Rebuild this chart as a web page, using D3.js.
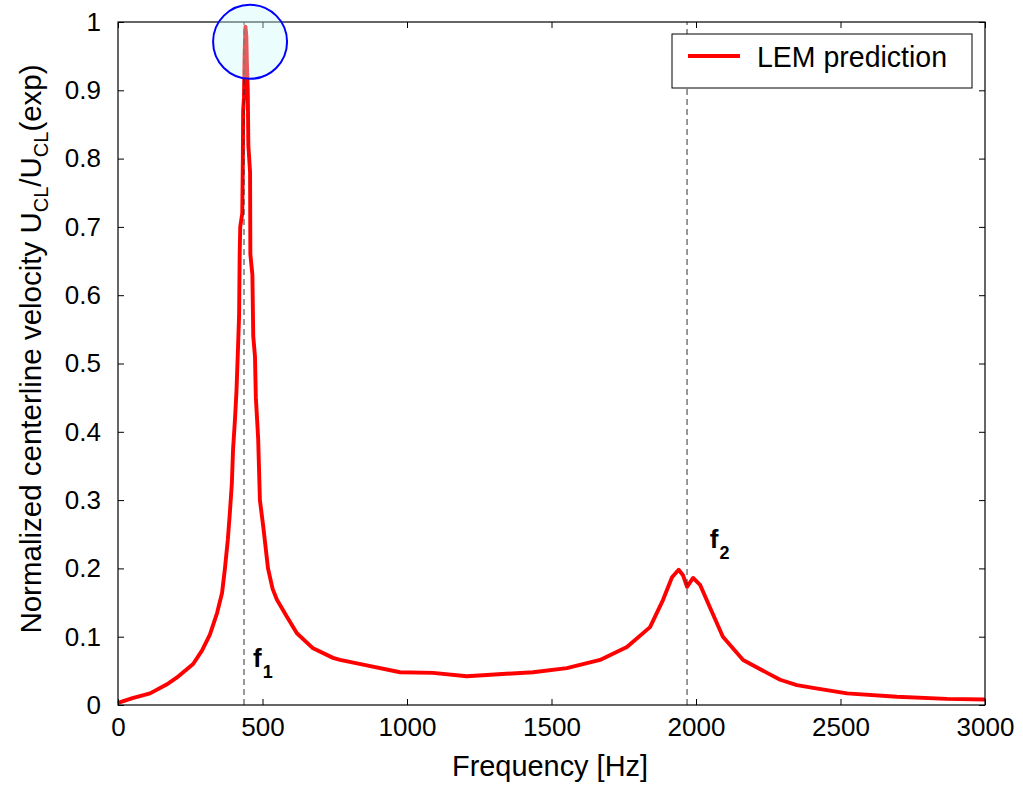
<!DOCTYPE html>
<html>
<head>
<meta charset="utf-8">
<script src="https://cdn.jsdelivr.net/npm/d3@7"></script>
<style>
  html, body { margin: 0; padding: 0; background: #fff; }
  svg { display: block; font-family: "Liberation Sans", Arial, Helvetica, sans-serif; }
</style>
</head>
<body>
<svg id="chart" width="1023" height="785"></svg>
<script>
// ---- data ----
const frequency = [0, 50, 111, 168, 203, 260, 291, 318, 343, 360, 370, 380, 387, 394, 398, 405, 410, 415, 419, 421, 423, 430, 432, 433, 436, 438, 441, 444, 446, 449, 451, 457, 458, 465, 468, 474, 477, 481, 485, 491, 503, 519, 535, 550, 585, 619, 675, 744, 768, 848, 976, 1090, 1207, 1276, 1436, 1553, 1668, 1761, 1841, 1886, 1917, 1940, 1955, 1969, 1990, 2014, 2048, 2093, 2163, 2246, 2291, 2349, 2405, 2522, 2695, 2868, 3000];
const velocity = [0.003, 0.010, 0.017, 0.030, 0.040, 0.060, 0.080, 0.103, 0.135, 0.164, 0.200, 0.242, 0.281, 0.325, 0.373, 0.420, 0.460, 0.520, 0.570, 0.660, 0.700, 0.720, 0.800, 0.870, 0.890, 0.950, 0.993, 0.980, 0.940, 0.900, 0.820, 0.780, 0.660, 0.630, 0.540, 0.510, 0.450, 0.420, 0.390, 0.300, 0.260, 0.200, 0.170, 0.154, 0.129, 0.105, 0.083, 0.069, 0.066, 0.059, 0.048, 0.047, 0.042, 0.044, 0.048, 0.054, 0.066, 0.085, 0.114, 0.154, 0.187, 0.198, 0.190, 0.173, 0.186, 0.176, 0.143, 0.100, 0.066, 0.047, 0.037, 0.029, 0.025, 0.017, 0.012, 0.009, 0.008];
const xTicks = [0, 500, 1000, 1500, 2000, 2500, 3000];
const yTicks = [0, 0.1, 0.2, 0.3, 0.4, 0.5, 0.6, 0.7, 0.8, 0.9, 1];
const yTickLabels = ["0", "0.1", "0.2", "0.3", "0.4", "0.5", "0.6", "0.7", "0.8", "0.9", "1"];
const resonances = [{name: "1", f: 436}, {name: "2", f: 1969}];
const resonanceLabelPos = [{f: 467, v: 0.056}, {f: 2048, v: 0.230}];
const highlight = {f: 457, v: 0.971};
const legendLabel = "LEM prediction";

// ---- layout ----
const svg = d3.select("#chart");
const mLeft = 118, mRight = 985, mTop = 22, mBottom = 705;
const x = d3.scaleLinear().domain([0, 3000]).range([mLeft, mRight]);
const y = d3.scaleLinear().domain([0, 1]).range([mBottom, mTop]);
const tickFont = 26;

// curve
const pts = frequency.map((f, i) => [f, velocity[i]]);
svg.append("path")
  .datum(pts)
  .attr("fill", "none")
  .attr("stroke", "#ff0000")
  .attr("stroke-width", 3.9)
  .attr("stroke-linejoin", "round")
  .attr("d", d3.line().x(d => x(d[0])).y(d => y(d[1])));

// resonance dashed lines
svg.selectAll("line.res").data(resonances).enter().append("line")
  .attr("class", "res")
  .attr("x1", d => x(d.f)).attr("x2", d => x(d.f))
  .attr("y1", y(0)).attr("y2", y(1))
  .attr("stroke", "#333").attr("stroke-width", 1)
  .attr("stroke-dasharray", "6,4");

// resonance labels
resonances.forEach((r, i) => {
  const p = resonanceLabelPos[i];
  const t = svg.append("text")
    .attr("x", x(p.f)).attr("y", y(p.v))
    .attr("font-size", 26).attr("font-weight", "bold").attr("fill", "#000");
  t.append("tspan").text("f");
  t.append("tspan").attr("font-size", 18).attr("dy", 11).attr("dx", 1).text(r.name);
});

// axes frame
svg.append("rect")
  .attr("x", mLeft).attr("y", mTop)
  .attr("width", mRight - mLeft).attr("height", mBottom - mTop)
  .attr("fill", "none").attr("stroke", "#000").attr("stroke-width", 1.2);

const gx = svg.append("g").attr("transform", `translate(0,${mBottom})`)
  .call(d3.axisBottom(x).tickValues(xTicks).tickSizeInner(-6).tickSizeOuter(0).tickPadding(13).tickFormat(d3.format("d")));
const gxt = svg.append("g").attr("transform", `translate(0,${mTop})`)
  .call(d3.axisTop(x).tickValues(xTicks).tickSizeInner(-6).tickSizeOuter(0).tickFormat(""));
const gy = svg.append("g").attr("transform", `translate(${mLeft},0)`)
  .call(d3.axisLeft(y).tickValues(yTicks).tickSizeInner(-6).tickSizeOuter(0).tickPadding(17).tickFormat((d, i) => yTickLabels[i]));
const gyr = svg.append("g").attr("transform", `translate(${mRight},0)`)
  .call(d3.axisRight(y).tickValues(yTicks).tickSizeInner(-6).tickSizeOuter(0).tickFormat(""));
[gx, gxt, gy, gyr].forEach(g => {
  g.select(".domain").remove();
  g.selectAll("line").attr("stroke", "#000");
  g.selectAll("text").attr("font-size", tickFont).attr("fill", "#000").attr("font-family", null);
});

// highlight circle
svg.append("circle")
  .attr("cx", x(highlight.f)).attr("cy", y(highlight.v)).attr("r", 37)
  .attr("fill", "rgb(200,250,250)").attr("fill-opacity", 0.36)
  .attr("stroke", "#0000ff").attr("stroke-width", 2);

// axis labels
svg.append("text")
  .attr("x", 452).attr("y", 776)
  .attr("font-size", 30).attr("fill", "#000")
  .attr("textLength", 196).attr("lengthAdjust", "spacingAndGlyphs")
  .text("Frequency [Hz]");

const yl = svg.append("text")
  .attr("transform", "translate(41,349) rotate(-90)")
  .attr("text-anchor", "middle").attr("font-size", 29.5).attr("fill", "#000");
yl.append("tspan").text("Normalized centerline velocity U");
yl.append("tspan").attr("font-size", 20).attr("dy", 7).text("CL");
yl.append("tspan").attr("dy", -7).text("/U");
yl.append("tspan").attr("font-size", 20).attr("dy", 7).text("CL");
yl.append("tspan").attr("dy", -7).text("(exp)");

// legend
const lg = svg.append("g");
lg.append("rect").attr("x", 672).attr("y", 34).attr("width", 300).attr("height", 54)
  .attr("fill", "#fff").attr("stroke", "#000").attr("stroke-width", 1);
lg.append("line").attr("x1", 688).attr("x2", 740).attr("y1", 56).attr("y2", 56)
  .attr("stroke", "#ff0000").attr("stroke-width", 3.9);
lg.append("text").attr("x", 757).attr("y", 67).attr("font-size", 29).attr("fill", "#000")
  .attr("textLength", 190).attr("lengthAdjust", "spacingAndGlyphs")
  .text(legendLabel);
</script>
</body>
</html>
